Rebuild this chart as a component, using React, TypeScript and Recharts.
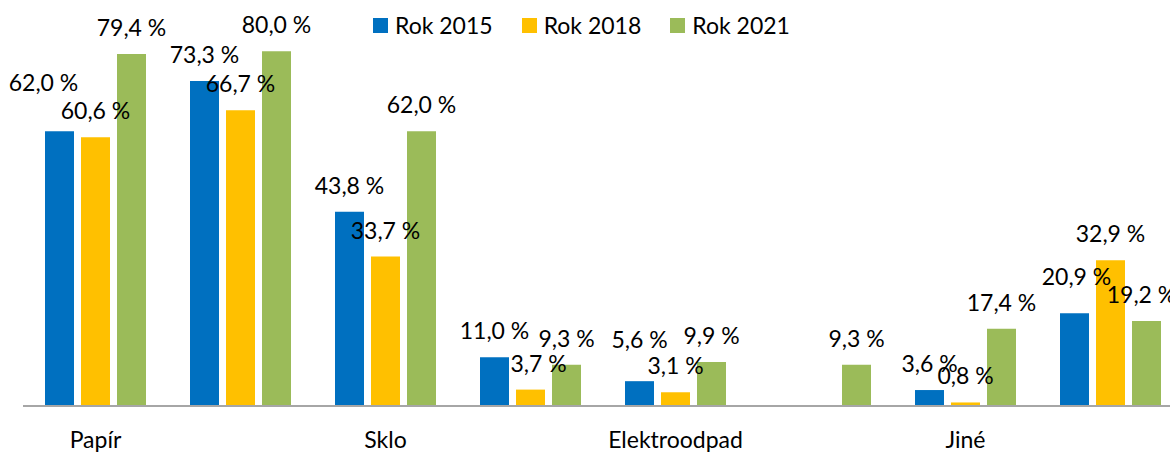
import React from "react";
import { BarChart, Bar, XAxis, YAxis, LabelList, Legend } from "recharts";

const categories = ["Papír", "Plasty", "Sklo", "Kovy", "Elektroodpad", "Textil", "Jiné", "Celkem"];
const rok2015: (number | null)[] = [62.0, 73.3, 43.8, 11.0, 5.6, null, 3.6, 20.9];
const rok2018: (number | null)[] = [60.6, 66.7, 33.7, 3.7, 3.1, null, 0.8, 32.9];
const rok2021: (number | null)[] = [79.4, 80.0, 62.0, 9.3, 9.9, 9.3, 17.4, 19.2];

const seriesNames = ["Rok 2015", "Rok 2018", "Rok 2021"];
const colors = ["#0070C0", "#FFC000", "#9BBB59"];
const keys = ["r2015", "r2018", "r2021"];

const data = categories.map((c, i) => ({
  name: c,
  r2015: rok2015[i],
  r2018: rok2018[i],
  r2021: rok2021[i],
}));

// manual label nudges (label placement tweaks like in the original)
const labelNudge: Record<string, { dx: number; dy: number }> = {
  "r2015-0": { dx: -16, dy: -22 },
  "r2018-3": { dx: 8, dy: 0 },
  "r2015-4": { dx: 0, dy: -15 },
  "r2015-6": { dx: 2, dy: -10 },
  "r2021-7": { dx: -5, dy: 0 },
};

const FONT = "Lato, 'Open Sans', sans-serif";

const makeLabel = (key: string) => (props: any) => {
  const { x, y, width, value, index } = props;
  if (value === null || value === undefined) return null;
  const n = labelNudge[`${key}-${index}`] || { dx: 0, dy: 0 };
  const txt = Number(value).toFixed(1).replace(".", ",") + " %";
  return (
    <text
      x={Number(x) + Number(width) / 2 + n.dx}
      y={Number(y) - 18 + n.dy}
      textAnchor="middle"
      fontFamily={FONT}
      fontSize={23}
      fill="#000"
    >
      {txt}
    </text>
  );
};

const renderLegend = () => (
  <div style={{ display: "flex", fontFamily: FONT, fontSize: 23, color: "#000" }}>
    {seriesNames.map((s, i) => (
      <div key={s} style={{ display: "flex", alignItems: "center", marginRight: 29 }}>
        <div style={{ width: 15, height: 15, background: colors[i], marginRight: 7 }} />
        <span>{s}</span>
      </div>
    ))}
  </div>
);

export default function App() {
  return (
    <div
      style={{
        position: "fixed",
        left: 0,
        top: 0,
        width: 1170,
        height: 452,
        overflow: "hidden",
        background: "#fff",
      }}
    >
      <BarChart
        width={1200}
        height={452}
        data={data}
        margin={{ top: 7, right: 17, bottom: 16, left: 23 }}
        barSize={29}
        barGap={7}
      >
        <XAxis
          dataKey="name"
          interval={1}
          tickLine={false}
          tickSize={0}
          tickMargin={26}
          height={30}
          axisLine={{ stroke: "#a6a6a6", strokeWidth: 2 }}
          tick={{ fontFamily: FONT, fontSize: 23, fill: "#000" }}
        />
        <YAxis hide domain={[0, 90]} allowDataOverflow />
        <Legend
          verticalAlign="middle"
          align="center"
          content={renderLegend}
          wrapperStyle={{ position: "absolute", top: 11, left: 373, width: "auto" }}
        />
        {keys.map((k, i) => (
          <Bar key={k} dataKey={k} name={seriesNames[i]} fill={colors[i]} isAnimationActive={false}>
            <LabelList dataKey={k} content={makeLabel(k)} />
          </Bar>
        ))}
      </BarChart>
    </div>
  );
}
